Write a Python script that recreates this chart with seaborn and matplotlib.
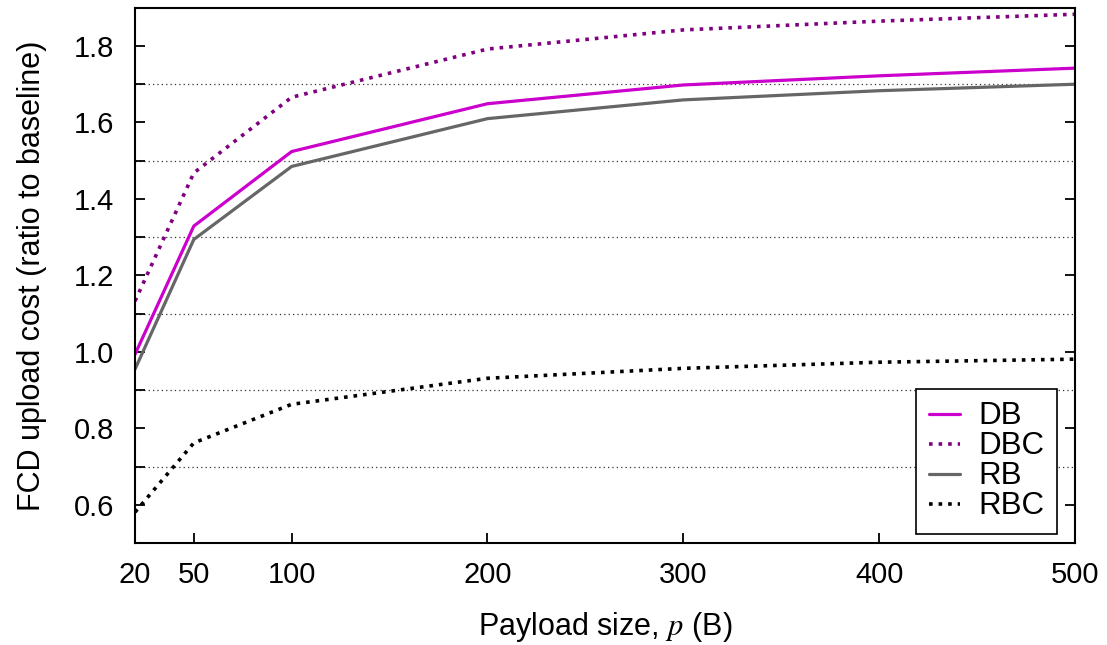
import pandas as pd
import matplotlib
matplotlib.use("Agg")
import matplotlib.pyplot as plt
from matplotlib.ticker import MultipleLocator
import seaborn as sns

# Data
payload = [20, 50, 100, 200, 300, 400, 500]
db = [0.994, 1.329, 1.524, 1.649, 1.698, 1.722, 1.742]
dbc = [1.133, 1.468, 1.666, 1.792, 1.842, 1.865, 1.883]
rb = [0.955, 1.294, 1.485, 1.610, 1.659, 1.683, 1.700]
rbc = [0.581, 0.762, 0.863, 0.931, 0.957, 0.973, 0.981]

series = ["DB", "DBC", "RB", "RBC"]
colors = ["#cc00cc", "#800080", "#666666", "#000000"]
styles = ["-", ":", "-", ":"]
ytick_vals = [0.6, 0.8, 1.0, 1.2, 1.4, 1.6, 1.8]
grid_vals = [0.7, 0.9, 1.1, 1.3, 1.5, 1.7]

df = pd.DataFrame({"p": payload, "DB": db, "DBC": dbc, "RB": rb, "RBC": rbc})
long_df = df.melt(id_vars="p", var_name="scheme", value_name="cost")

sns.set_style("ticks")
plt.rcParams["font.family"] = ["Liberation Sans", "DejaVu Sans"]
plt.rcParams["mathtext.fontset"] = "stix"
plt.rcParams["text.color"] = "black"
plt.rcParams["axes.labelcolor"] = "black"
plt.rcParams["xtick.color"] = "black"
plt.rcParams["ytick.color"] = "black"

fig = plt.figure(figsize=(11.07, 6.45), dpi=100)
ax = fig.add_axes([0.122, 0.158, 0.849, 0.830])

for name, col, ls in zip(series, colors, styles):
    sub = long_df[long_df["scheme"] == name]
    sns.lineplot(data=sub, x="p", y="cost", ax=ax, color=col, linestyle=ls,
                 linewidth=2.6 if ls == ":" else 2.3, label=name)

ax.set_xlim(20, 500)
ax.set_ylim(0.5, 1.9)
ax.set_xticks(payload)
ax.yaxis.set_minor_locator(MultipleLocator(0.1))
ax.set_yticks(ytick_vals)
ax.set_yticklabels([f"{v:.1f}" for v in ytick_vals])

# dotted grid on the odd tenths
for yv in grid_vals:
    ax.axhline(yv, color="#333333", linestyle=(0, (1, 2.5)), linewidth=0.9, zorder=0)

ax.tick_params(axis="both", which="major", direction="in", length=7, width=1.3,
               labelsize=21)
ax.tick_params(axis="x", which="major", pad=13)
ax.tick_params(axis="y", which="major", pad=15, right=True)
ax.tick_params(axis="y", which="minor", direction="in", length=7, width=1.3)
for sp in ax.spines.values():
    sp.set_linewidth(1.5)
    sp.set_color("black")

ax.set_xlabel("Payload size, $p$ (B)", fontsize=22, labelpad=15)
ax.set_ylabel("FCD upload cost (ratio to baseline)", fontsize=22, labelpad=19)

leg = ax.legend(loc="lower right", fontsize=22.5, frameon=True, fancybox=False,
                edgecolor="black", framealpha=1, handlelength=1.0,
                handletextpad=0.6, labelspacing=0.0, borderpad=0.4,
                borderaxespad=0, bbox_to_anchor=(0.981, 0.017))
leg.get_frame().set_linewidth(1.2)

fig.savefig("out.png", dpi=100)
plt.close(fig)
